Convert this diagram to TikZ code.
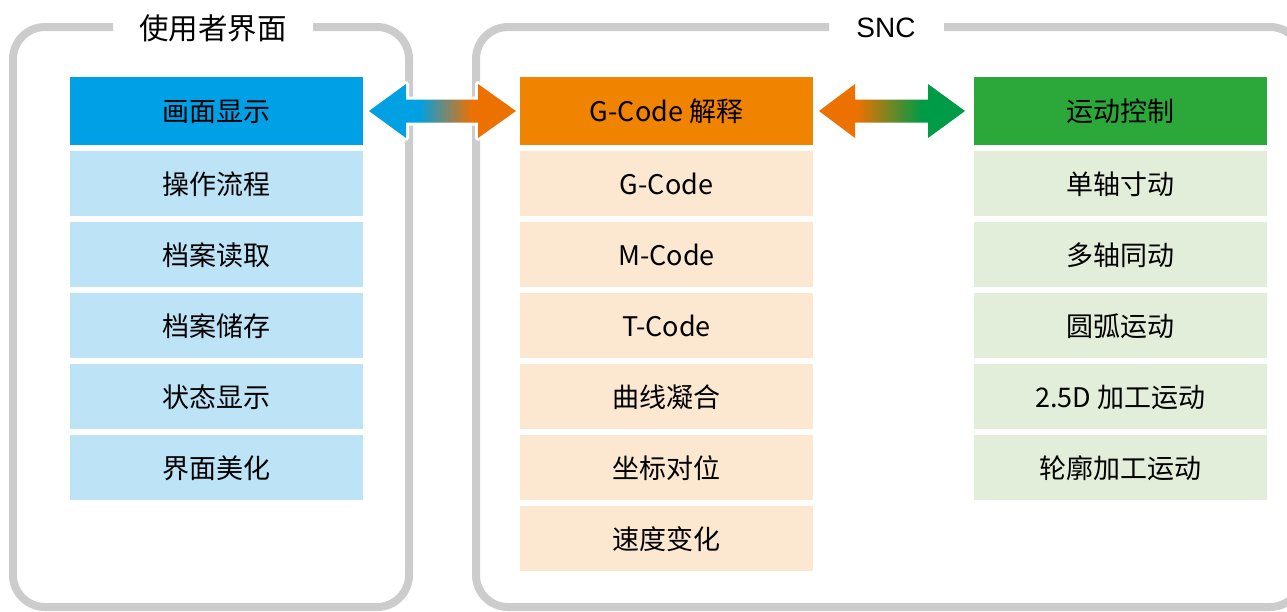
\documentclass[tikz,border=0pt]{standalone}
\usepackage{fontspec}
\setmainfont{Noto Sans CJK SC}
\newfontfamily\sncfont{Liberation Sans}
\usetikzlibrary{calc}
\definecolor{frameGray}{RGB}{203,204,203}
\definecolor{hBlue}{RGB}{0,160,230}
\definecolor{iBlue}{RGB}{189,227,247}
\definecolor{hOrange}{RGB}{240,131,0}
\definecolor{iOrange}{RGB}{252,232,208}
\definecolor{hGreen}{RGB}{44,168,58}
\definecolor{iGreen}{RGB}{226,238,217}
\definecolor{aBlue}{RGB}{0,160,226}
\definecolor{aOrange}{RGB}{237,113,0}
\definecolor{aGreen}{RGB}{0,155,70}
\pgfdeclarehorizontalshading{blueorange}{100bp}{color(0bp)=(aBlue); color(42bp)=(aBlue); color(60bp)=(aOrange); color(100bp)=(aOrange)}
\pgfdeclarehorizontalshading{orangegreen}{100bp}{color(0bp)=(aOrange); color(38bp)=(aOrange); color(60bp)=(aGreen); color(100bp)=(aGreen)}
\tikzset{
  frame/.style={draw=frameGray, line width=8pt, rounded corners=32pt},
  boxbase/.style={minimum width=293pt, inner sep=0pt, outer sep=0pt, anchor=north west},
  headbox/.style={boxbase, minimum height=68pt},
  itembox/.style={boxbase, minimum height=65pt},
  boxlabel/.style={font=\fontsize{27}{31}\selectfont, inner sep=0pt, yshift=-0.5pt},
  titletext/.style={font=\fontsize{29.5}{34}\selectfont, inner sep=0pt, yshift=-1pt},
  bigarrow/.style={preaction={draw=white, line width=6pt, line join=round}}
}
\newcommand{\boxrow}[5]{%
  \node[#1, fill=#2] (#3) at #4 {};
  \node[boxlabel, text=\ifx#1headbox white\else black\fi] at (#3.center) {#5};}
\begin{document}
\begin{tikzpicture}[x=1pt, y=-1pt]
\clip (0,0) rectangle (1287,611);
% frames
\draw[frame] (113,27) -- (13,27) -- (13,607) -- (409,607) -- (409,27) -- (313,27);
\draw[frame] (829,27) -- (476,27) -- (476,607) -- (1302,607) -- (1302,27) -- (944,27);
\node[titletext] (t1) at (213,27) {使用者界面};
\node[titletext, font=\sncfont\fontsize{28}{34}\selectfont] (t2) at (886,27) {SNC};
% headers
\boxrow{headbox}{hBlue}{h1}{(70,77)}{画面显示}
\boxrow{headbox}{hOrange}{h2}{(520,77)}{G-Code 解释}
\boxrow{headbox}{hGreen}{h3}{(974,77)}{运动控制}
% left items
\boxrow{itembox}{iBlue}{l1}{(70,151)}{操作流程}
\boxrow{itembox}{iBlue}{l2}{(70,222)}{档案读取}
\boxrow{itembox}{iBlue}{l3}{(70,293)}{档案储存}
\boxrow{itembox}{iBlue}{l4}{(70,364)}{状态显示}
\boxrow{itembox}{iBlue}{l5}{(70,435)}{界面美化}
% middle items
\boxrow{itembox}{iOrange}{m1}{(520,151)}{G-Code}
\boxrow{itembox}{iOrange}{m2}{(520,222)}{M-Code}
\boxrow{itembox}{iOrange}{m3}{(520,293)}{T-Code}
\boxrow{itembox}{iOrange}{m4}{(520,364)}{曲线凝合}
\boxrow{itembox}{iOrange}{m5}{(520,435)}{坐标对位}
\boxrow{itembox}{iOrange}{m6}{(520,506)}{速度变化}
% right items
\boxrow{itembox}{iGreen}{r1}{(974,151)}{单轴寸动}
\boxrow{itembox}{iGreen}{r2}{(974,222)}{多轴同动}
\boxrow{itembox}{iGreen}{r3}{(974,293)}{圆弧运动}
\boxrow{itembox}{iGreen}{r4}{(974,364)}{2.5D 加工运动}
\boxrow{itembox}{iGreen}{r5}{(974,435)}{轮廓加工运动}
% arrows
\coordinate (a1l) at ($(h1.east)+(6,0)$);
\coordinate (a1r) at ($(h2.west)+(-4,0)$);
\coordinate (a2l) at ($(h2.east)+(6,0)$);
\coordinate (a2r) at ($(h3.west)+(-9,0)$);
\path[bigarrow, shading=blueorange] (a1l) -- ($(a1l)+(37,-27)$) -- ($(a1l)+(37,-11.5)$) -- ($(a1r)+(-38,-11.5)$) -- ($(a1r)+(-38,-27)$) -- (a1r) -- ($(a1r)+(-38,27)$) -- ($(a1r)+(-38,11.5)$) -- ($(a1l)+(37,11.5)$) -- ($(a1l)+(37,27)$) -- cycle;
\path[bigarrow, shading=orangegreen] (a2l) -- ($(a2l)+(36,-27)$) -- ($(a2l)+(36,-11.5)$) -- ($(a2r)+(-37,-11.5)$) -- ($(a2r)+(-37,-27)$) -- (a2r) -- ($(a2r)+(-37,27)$) -- ($(a2r)+(-37,11.5)$) -- ($(a2l)+(36,11.5)$) -- ($(a2l)+(36,27)$) -- cycle;
\end{tikzpicture}
\end{document}
